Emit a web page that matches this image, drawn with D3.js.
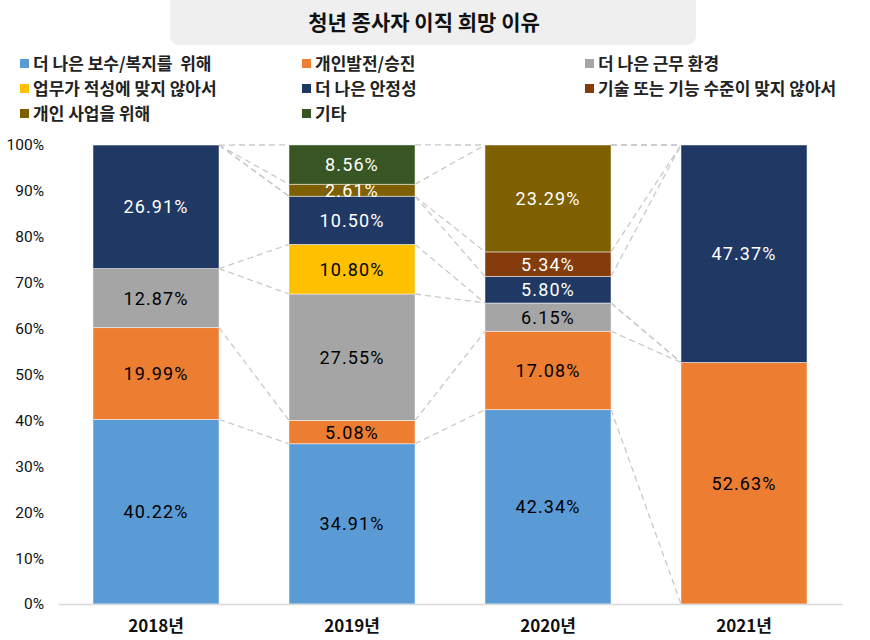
<!DOCTYPE html>
<html>
<head>
<meta charset="utf-8">
<script src="https://cdn.jsdelivr.net/npm/d3@7"></script>
<style>
  body { margin: 0; background: #fff; }
  svg text { font-family: "Noto Sans CJK KR", "Noto Sans", sans-serif; }
</style>
</head>
<body>
<svg id="chart" width="870" height="640"></svg>
<script>
// years on the x axis
const years = ["2018년", "2019년", "2020년", "2021년"];

// series, bottom to top of each stack
const seriesNames = [
  "더 나은 보수/복지를  위해",
  "개인발전/승진",
  "더 나은 근무 환경",
  "업무가 적성에 맞지 않아서",
  "더 나은 안정성",
  "기술 또는 기능 수준이 맞지 않아서",
  "개인 사업을 위해",
  "기타"
];
const seriesColors = ["#5B9BD5", "#ED7D31", "#A5A5A5", "#FFC000", "#203864", "#843C0C", "#7F6000", "#375623"];
const labelColors = ["#000", "#000", "#000", "#000", "#fff", "#fff", "#fff", "#fff"];

// percent values per series, one per year
const payImprove = [40.22, 34.91, 42.34, 0];
const selfGrowth = [19.99, 5.08, 17.08, 52.63];
const betterEnv = [12.87, 27.55, 6.15, 0];
const notSuited = [0, 10.80, 0, 0];
const stability = [26.91, 10.50, 5.80, 47.37];
const skillMismatch = [0, 0, 5.34, 0];
const ownBusiness = [0, 2.61, 23.29, 0];
const others = [0, 8.56, 0, 0];

const yTicks = [0, 10, 20, 30, 40, 50, 60, 70, 80, 90, 100];

const seriesValues = [payImprove, selfGrowth, betterEnv, notSuited, stability, skillMismatch, ownBusiness, others];

const svg = d3.select("#chart");

// title box
svg.append("rect")
  .attr("x", 170).attr("y", -10)
  .attr("width", 526).attr("height", 55)
  .attr("rx", 9)
  .attr("fill", "#efefef");
svg.append("text")
  .attr("x", 424).attr("y", 30)
  .attr("text-anchor", "middle")
  .attr("font-size", 21)
  .attr("font-weight", 700)
  .attr("fill", "#111")
  .text("청년 종사자 이직 희망 이유");

// legend, filled row by row in 3 columns
const legendCols = [20, 302, 585];
const legendRows = [64, 89, 114];
const legend = svg.append("g");
seriesNames.forEach((name, i) => {
  const lx = legendCols[i % 3];
  const ly = legendRows[Math.floor(i / 3)];
  legend.append("rect")
    .attr("x", lx).attr("y", ly - 5)
    .attr("width", 9).attr("height", 9)
    .attr("fill", seriesColors[i]);
  legend.append("text")
    .attr("x", lx + 13).attr("y", ly + 6)
    .attr("font-size", 17)
    .attr("font-weight", 700)
    .attr("fill", "#222")
    .attr("xml:space", "preserve")
    .style("white-space", "pre")
    .text(name);
});

const margins = { top: 145, left: 58, right: 28, bottom: 36 };
const plotW = 870 - margins.left - margins.right;
const plotH = 640 - margins.top - margins.bottom;

const x = d3.scaleBand()
  .domain(years)
  .range([0, plotW])
  .paddingInner(0.357)
  .paddingOuter(0.1785);

const y = d3.scaleLinear()
  .domain([0, 100])
  .range([plotH, 0]);

const g = svg.append("g")
  .attr("transform", `translate(${margins.left},${margins.top})`);

// build rows for d3.stack
const table = years.map((yr, j) => {
  const row = { year: yr };
  seriesNames.forEach((s, i) => { row[s] = seriesValues[i][j]; });
  return row;
});
const stacked = d3.stack().keys(seriesNames)(table);

// series lines (dashed connectors between neighbouring bars)
const connectors = [];
stacked.forEach(layer => {
  for (let j = 0; j < years.length - 1; j++) {
    connectors.push({
      x1: x(years[j]) + x.bandwidth(), y1: y(layer[j][1]),
      x2: x(years[j + 1]), y2: y(layer[j + 1][1])
    });
  }
});
g.selectAll("line.conn")
  .data(connectors)
  .join("line")
  .attr("class", "conn")
  .attr("x1", d => d.x1).attr("y1", d => d.y1)
  .attr("x2", d => d.x2).attr("y2", d => d.y2)
  .attr("stroke", "#c9c9c9")
  .attr("stroke-width", 1.3)
  .attr("stroke-dasharray", "6,4");

// stacked bars
const layers = g.selectAll("g.layer")
  .data(stacked)
  .join("g")
  .attr("class", "layer")
  .attr("fill", (d, i) => seriesColors[i]);

layers.selectAll("rect")
  .data(d => d.map((p, j) => ({ p, year: years[j] })).filter(d => d.p[1] > d.p[0]))
  .join("rect")
  .attr("x", d => x(d.year))
  .attr("y", d => y(d.p[1]))
  .attr("width", x.bandwidth())
  .attr("height", d => y(d.p[0]) - y(d.p[1]))
  .attr("stroke", "#ffffff")
  .attr("stroke-opacity", 0.6)
  .attr("stroke-width", 0.8);

// value labels
stacked.forEach((layer, i) => {
  g.selectAll(null)
    .data(layer.map((p, j) => ({ p, year: years[j] })).filter(d => d.p[1] > d.p[0]))
    .join("text")
    .attr("x", d => x(d.year) + x.bandwidth() / 2)
    .attr("y", d => y((d.p[0] + d.p[1]) / 2))
    .attr("dy", "0.36em")
    .attr("text-anchor", "middle")
    .attr("font-size", 18)
    .attr("letter-spacing", 1.1)
    .style("font-family", "Roboto, sans-serif")
    .attr("fill", labelColors[i])
    .text(d => (d.p[1] - d.p[0]).toFixed(2) + "%");
});

// y axis
const yAxis = g.append("g")
  .call(d3.axisLeft(y).tickValues(yTicks).tickSize(0).tickPadding(14).tickFormat(d => d + "%"));
yAxis.select(".domain").remove();
yAxis.selectAll("text")
  .attr("font-size", 15.5)
  .style("font-family", "Roboto, sans-serif")
  .attr("fill", "#111");

// x axis
const xAxis = g.append("g")
  .attr("transform", `translate(0,${plotH})`)
  .call(d3.axisBottom(x).tickSize(0).tickPadding(16));
xAxis.select(".domain").attr("stroke", "#d9d9d9").attr("stroke-width", 1.5);
xAxis.selectAll("text")
  .attr("font-size", 17)
  .attr("font-weight", 700)
  .attr("fill", "#111");
</script>
</body>
</html>
